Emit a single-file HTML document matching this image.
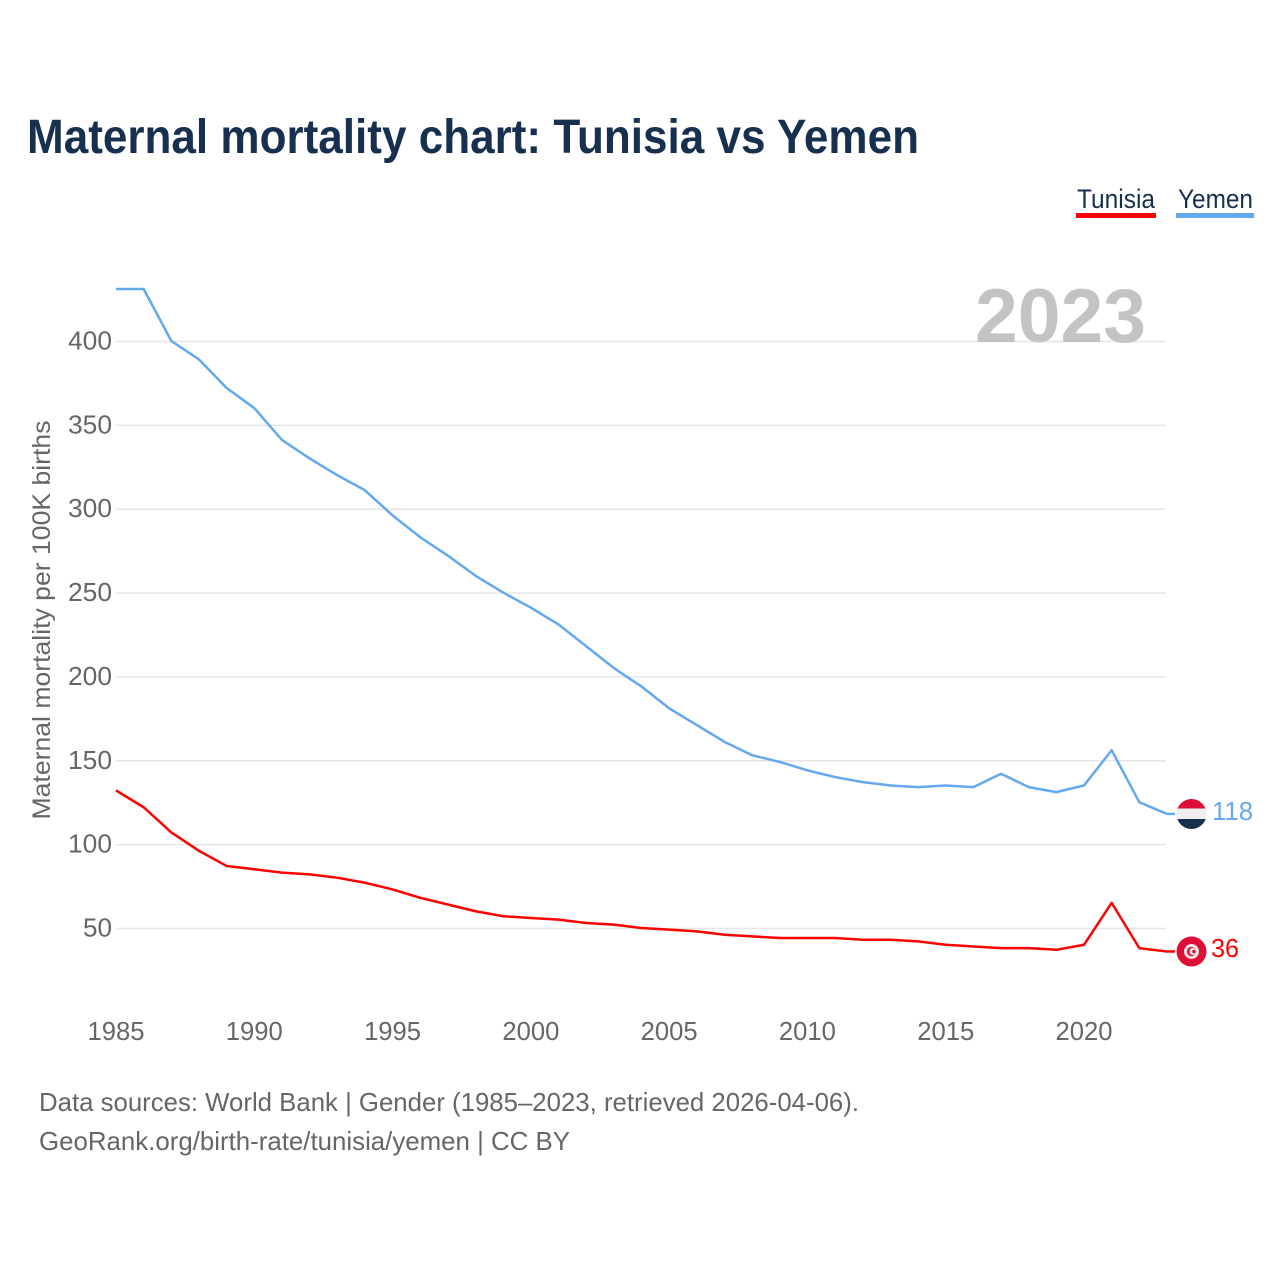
<!DOCTYPE html>
<html lang="en">
<head>
<meta charset="utf-8">
<title>Maternal mortality chart: Tunisia vs Yemen</title>
<style>
html,body{margin:0;padding:0;background:#fff;width:1280px;height:1280px;overflow:hidden}
svg{display:block;font-family:"Liberation Sans",sans-serif}
</style>
</head>
<body>
<svg id="chart" xmlns="http://www.w3.org/2000/svg" width="1280" height="1280" viewBox="0 0 1280 1280">
  <defs>
    <clipPath id="yemen-clip"><circle cx="1191.5" cy="814" r="15"/></clipPath>
    <clipPath id="tunisia-clip"><circle cx="1191.5" cy="951.5" r="15"/></clipPath>
  </defs>
  <rect width="1280" height="1280" fill="#fff"/>
  <text x="27" y="153" font-size="48" font-weight="700" fill="#17304f" textLength="892" lengthAdjust="spacingAndGlyphs">Maternal mortality chart: Tunisia vs Yemen</text>
  <g>
    <g>
      <text x="1077" y="208" font-size="27" fill="#17304f" textLength="78" lengthAdjust="spacingAndGlyphs">Tunisia</text>
      <rect x="1076" y="213" width="80" height="5" fill="#ff0000"/>
    </g>
    <g>
      <text x="1178" y="208" font-size="27" fill="#17304f" textLength="75" lengthAdjust="spacingAndGlyphs">Yemen</text>
      <rect x="1176" y="213" width="78" height="5" fill="#64a8ee"/>
    </g>
  </g>
  <g id="grid"></g>
  <text x="975" y="342" font-size="76" font-weight="700" fill="#c3c3c3" textLength="171" lengthAdjust="spacingAndGlyphs">2023</text>
  <g id="y-ticks"></g>
  <g id="x-ticks"></g>
  <text transform="translate(50,620) rotate(-90)" text-anchor="middle" font-size="25" fill="#666666" textLength="399" lengthAdjust="spacingAndGlyphs">Maternal mortality per 100K births</text>
  <polyline id="line-yemen" fill="none" stroke="#64a8ee" stroke-width="2.5" stroke-linejoin="round"/>
  <polyline id="line-tunisia" fill="none" stroke="#ff0000" stroke-width="2.5" stroke-linejoin="round"/>
  <line id="connector-yemen" stroke="#64a8ee" stroke-width="2.5"/>
  <line id="connector-tunisia" stroke="#ff0000" stroke-width="2.5"/>
  <g clip-path="url(#yemen-clip)">
    <rect x="1176" y="798" width="31" height="10.5" fill="#de0f36"/>
    <rect x="1176" y="808.5" width="31" height="10.5" fill="#eeeeee"/>
    <rect x="1176" y="819" width="31" height="11" fill="#17304f"/>
  </g>
  <g clip-path="url(#tunisia-clip)">
    <rect x="1176" y="936" width="31" height="31" fill="#de0f36"/>
    <circle cx="1191.5" cy="951.5" r="7.5" fill="#f4e4e6"/>
    <circle cx="1191.5" cy="951.5" r="4.6" fill="#de0f36"/>
    <circle cx="1193" cy="951.5" r="3.6" fill="#f4e4e6"/>
    <circle cx="1194" cy="951.5" r="1.8" fill="#de0f36"/>
  </g>
  <text id="value-yemen" x="1212" y="820" font-size="26" fill="#64a8ee" textLength="41" lengthAdjust="spacingAndGlyphs"></text>
  <text id="value-tunisia" x="1211" y="957" font-size="26" fill="#ff0000" textLength="28" lengthAdjust="spacingAndGlyphs"></text>
  <g>
    <text x="39" y="1111" font-size="26" fill="#666666" textLength="820" lengthAdjust="spacingAndGlyphs">Data sources: World Bank | Gender (1985–2023, retrieved 2026-04-06).</text>
    <text x="39" y="1150" font-size="26" fill="#666666" textLength="531" lengthAdjust="spacingAndGlyphs">GeoRank.org/birth-rate/tunisia/yemen | CC BY</text>
  </g>
</svg>
<script>
const firstYear = 1985;
const lastYear = 2023;
const yemenValues = [431,431,400,389,372,360,341,330,320,311,296,283,272,260,250,241,231,218,205,194,181,171,161,153,149,144,140,137,135,134,135,134,142,134,131,135,156,125,118];
const tunisiaValues = [132,122,107,96,87,85,83,82,80,77,73,68,64,60,57,56,55,53,52,50,49,48,46,45,44,44,44,43,43,42,40,39,38,38,37,40,65,38,36];
const yTickValues = [50,100,150,200,250,300,350,400];
const xTickYears = [1985,1990,1995,2000,2005,2010,2015,2020];

const NS = 'http://www.w3.org/2000/svg';
function xScale(year) { return 116 + (year - 1985) * (1084 - 116) / 35; }
function yScale(value) { return 928 - (value - 50) * (928 - 341) / 350; }
function points(values) {
  return values.map(function (v, i) {
    return xScale(firstYear + i).toFixed(2) + ',' + yScale(v).toFixed(2);
  }).join(' ');
}

const gridGroup = document.getElementById('grid');
const yGroup = document.getElementById('y-ticks');
yTickValues.forEach(function (v) {
  const line = document.createElementNS(NS, 'line');
  
  
  line.setAttribute('x1', xScale(firstYear));
  line.setAttribute('x2', 1166);
  line.setAttribute('y1', yScale(v) + 0.5);
  line.setAttribute('y2', yScale(v) + 0.5);
  line.setAttribute('stroke', '#e6e6e6');
  line.setAttribute('stroke-width', '1.5');
  gridGroup.appendChild(line);

  const label = document.createElementNS(NS, 'text');
  
  
  const w = String(v).length === 3 ? 44 : 29;
  label.setAttribute('x', 112 - w);
  label.setAttribute('y', yScale(v) + 8.5);
  label.setAttribute('font-size', '26');
  label.setAttribute('fill', '#666666');
  label.setAttribute('textLength', w);
  label.setAttribute('lengthAdjust', 'spacingAndGlyphs');
  label.textContent = v;
  yGroup.appendChild(label);
});

const xGroup = document.getElementById('x-ticks');
xTickYears.forEach(function (year) {
  const label = document.createElementNS(NS, 'text');
  
  
  label.setAttribute('x', xScale(year) - 28.5);
  label.setAttribute('y', 1040);
  label.setAttribute('font-size', '26');
  label.setAttribute('fill', '#666666');
  label.setAttribute('textLength', '57');
  label.setAttribute('lengthAdjust', 'spacingAndGlyphs');
  label.textContent = year;
  xGroup.appendChild(label);
});

document.getElementById('line-yemen').setAttribute('points', points(yemenValues));
document.getElementById('line-tunisia').setAttribute('points', points(tunisiaValues));

const yemenLast = yemenValues[yemenValues.length - 1];
const tunisiaLast = tunisiaValues[tunisiaValues.length - 1];
const connectorYemen = document.getElementById('connector-yemen');
connectorYemen.setAttribute('x1', xScale(lastYear));
connectorYemen.setAttribute('x2', 1175);
connectorYemen.setAttribute('y1', yScale(yemenLast));
connectorYemen.setAttribute('y2', yScale(yemenLast));
const connectorTunisia = document.getElementById('connector-tunisia');
connectorTunisia.setAttribute('x1', xScale(lastYear));
connectorTunisia.setAttribute('x2', 1175);
connectorTunisia.setAttribute('y1', yScale(tunisiaLast));
connectorTunisia.setAttribute('y2', yScale(tunisiaLast));
document.getElementById('value-yemen').textContent = yemenLast;
document.getElementById('value-tunisia').textContent = tunisiaLast;
</script>
</body>
</html>
